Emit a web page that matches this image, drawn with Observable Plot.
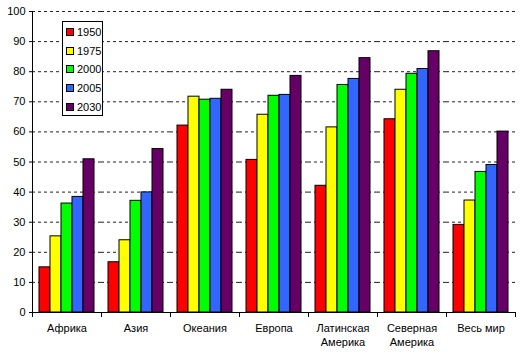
<!DOCTYPE html>
<html>
<head>
<meta charset="utf-8">
<script src="https://cdn.jsdelivr.net/npm/d3@7"></script>
<script src="https://cdn.jsdelivr.net/npm/@observablehq/plot@0.6"></script>
<style>
  html, body { margin: 0; padding: 0; background: #fff; }
  #wrap { position: relative; width: 520px; height: 364px; font-family: "Liberation Sans", Arial, sans-serif; }
  #legend { position: absolute; left: 62px; top: 21px; width: 41px; height: 95px; box-sizing: border-box;
            border: 1px solid #000; background: #fff; font-size: 11px; }
  .item { position: absolute; left: 3px; height: 14px; line-height: 14px; white-space: nowrap; }
  .sw { display: inline-block; width: 6px; height: 6px; border: 1px solid #000; vertical-align: middle; margin-right: 3px; position: relative; top: -1px; }
</style>
</head>
<body>
<div id="wrap"><div id="legend"></div></div>
<script>
const regions = ["Африка", "Азия", "Океания", "Европа", "Латинская\nАмерика", "Северная\nАмерика", "Весь мир"];
const years = ["1950", "1975", "2000", "2005", "2030"];
const v1950 = [15.0, 16.7, 62.1, 50.7, 42.1, 64.2, 29.1];
const v1975 = [25.3, 24.0, 71.7, 65.7, 61.5, 74.0, 37.2];
const v2000 = [36.2, 37.1, 70.7, 72.0, 75.6, 79.3, 46.7];
const v2005 = [38.4, 39.9, 71.0, 72.3, 77.6, 80.9, 49.0];
const v2030 = [50.9, 54.3, 74.0, 78.6, 84.5, 86.8, 60.1];
const colors = ["#FF0000", "#FFFF00", "#00FF00", "#3366FF", "#660066"];
const yTicks = [0, 10, 20, 30, 40, 50, 60, 70, 80, 90, 100];

const series = [v1950, v1975, v2000, v2005, v2030];
const data = [];
regions.forEach((r, i) => years.forEach((y, j) => data.push({region: r, year: y, value: series[j][i]})));

const chart = Plot.plot({
  width: 520,
  height: 364,
  marginLeft: 30,
  marginRight: 3,
  marginTop: 11,
  marginBottom: 52,
  style: {fontFamily: "'Liberation Sans', Arial, sans-serif", fontSize: "11px", color: "#000", background: "#fff"},
  fx: {domain: regions, padding: 0, axis: null, label: null},
  x: {domain: years, paddingInner: 0, paddingOuter: 0.57, axis: null, label: null},
  y: {domain: [0, 100], label: null, axis: null},
  color: {domain: years, range: colors},
  marks: [
    Plot.ruleY(yTicks.filter(d => d > 0), {stroke: "#222", strokeWidth: 1, strokeDasharray: "3,3"}),
    Plot.barY(data, {fx: "region", x: "year", y: "value", fill: "year", stroke: "#000", strokeWidth: 1}),
    Plot.ruleY([0], {stroke: "#000"}),
    Plot.frame({anchor: "left", insetTop: 301, insetBottom: -4, stroke: "#000"}),
    Plot.frame({anchor: "right", insetTop: 301, insetBottom: -4, stroke: "#000"}),
    Plot.frame({anchor: "left", stroke: "#000", fx: () => "Африка"}),
    Plot.axisY({ticks: yTicks, tickSize: 3, tickPadding: 4, fontSize: 11, fill: "#000", stroke: "#000"}),
    Plot.text(regions, {fx: d => d, text: d => d, frameAnchor: "bottom", lineAnchor: "top", dy: 9, lineHeight: 1.3, fontSize: 11, fill: "#000"})
  ]
});
document.getElementById("wrap").prepend(chart);

const legend = document.getElementById("legend");
years.forEach((y, j) => {
  const it = document.createElement("div");
  it.className = "item";
  it.style.top = (3 + j * 18.7) + "px";
  it.innerHTML = `<span class="sw" style="background:${colors[j]}"></span>${y}`;
  legend.appendChild(it);
});
</script>
</body>
</html>
